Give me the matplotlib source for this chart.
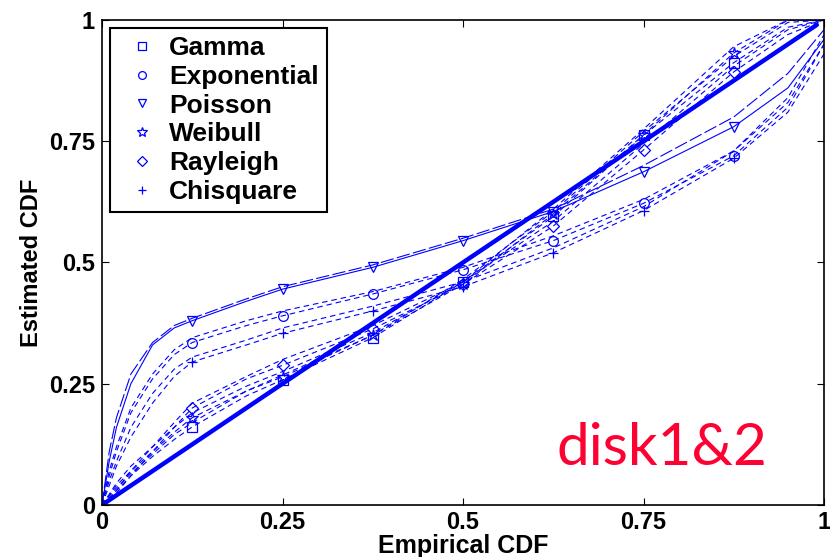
import matplotlib
matplotlib.use("Agg")
import matplotlib.pyplot as plt

xs = [0, 0.01, 0.02, 0.04, 0.07, 0.1, 0.125, 0.2, 0.25, 0.375, 0.5, 0.625, 0.75, 0.875, 0.95, 1.0]

# two curves (disk1, disk2) for each fitted distribution
gamma_1 = [0, 0.015, 0.03, 0.06, 0.10, 0.135, 0.161, 0.225, 0.258, 0.345, 0.46, 0.595, 0.762, 0.912, 0.985, 1.0]
gamma_2 = [0, 0.018, 0.035, 0.065, 0.105, 0.145, 0.17, 0.235, 0.268, 0.35, 0.465, 0.605, 0.77, 0.925, 0.995, 1.0]
expo_1 = [0, 0.06, 0.11, 0.19, 0.26, 0.31, 0.335, 0.37, 0.39, 0.435, 0.485, 0.545, 0.622, 0.72, 0.82, 0.95]
expo_2 = [0, 0.07, 0.12, 0.20, 0.27, 0.32, 0.345, 0.38, 0.40, 0.44, 0.49, 0.555, 0.63, 0.73, 0.84, 0.97]
poisson_1 = [0, 0.09, 0.16, 0.25, 0.33, 0.365, 0.38, 0.42, 0.445, 0.49, 0.545, 0.605, 0.687, 0.78, 0.86, 0.96]
poisson_2 = [0, 0.11, 0.18, 0.27, 0.335, 0.37, 0.385, 0.425, 0.45, 0.495, 0.55, 0.61, 0.70, 0.80, 0.89, 0.98]
weibull_1 = [0, 0.02, 0.04, 0.07, 0.11, 0.15, 0.18, 0.235, 0.264, 0.35, 0.455, 0.60, 0.763, 0.932, 1.0, 1.0]
weibull_2 = [0, 0.022, 0.045, 0.08, 0.12, 0.16, 0.19, 0.245, 0.275, 0.355, 0.46, 0.61, 0.775, 0.945, 1.0, 1.0]
rayleigh_1 = [0, 0.01, 0.025, 0.06, 0.11, 0.16, 0.20, 0.26, 0.288, 0.363, 0.455, 0.575, 0.732, 0.893, 0.97, 1.0]
rayleigh_2 = [0, 0.012, 0.03, 0.07, 0.12, 0.17, 0.21, 0.265, 0.30, 0.37, 0.46, 0.585, 0.745, 0.905, 0.98, 1.0]
chisq_1 = [0, 0.04, 0.08, 0.14, 0.21, 0.265, 0.295, 0.33, 0.354, 0.40, 0.45, 0.52, 0.607, 0.715, 0.81, 0.93]
chisq_2 = [0, 0.05, 0.09, 0.16, 0.23, 0.28, 0.305, 0.34, 0.365, 0.41, 0.46, 0.53, 0.615, 0.73, 0.83, 0.95]

# marker positions
mx = [0.125, 0.25, 0.375, 0.5, 0.625, 0.75, 0.875]
gamma_m = [0.161, 0.258, 0.345, 0.46, 0.595, 0.762, 0.912]
expo_m = [0.335, 0.39, 0.435, 0.485, 0.545, 0.622, 0.72]
poisson_m = [0.38, 0.445, 0.49, 0.545, 0.605, 0.687, 0.78]
weibull_m = [0.18, 0.264, 0.35, 0.455, 0.60, 0.763, 0.932]
rayleigh_m = [0.20, 0.288, 0.363, 0.455, 0.575, 0.732, 0.893]
chisq_m = [0.295, 0.354, 0.40, 0.45, 0.52, 0.607, 0.715]

labels = ["Gamma", "Exponential", "Poisson", "Weibull", "Rayleigh", "Chisquare"]
diag = [0, 0.99]

blue = "#0000ff"
plt.rcParams["font.family"] = ["Liberation Sans", "DejaVu Sans"]
plt.rcParams["font.weight"] = "bold"

fig = plt.figure(figsize=(8.3, 5.57), dpi=100)
ax = fig.add_axes([0.1229, 0.0934, 0.8699, 0.8707])

dash = (5, 3.5)
for c in [gamma_1, gamma_2, expo_1, expo_2, weibull_1, weibull_2,
          rayleigh_1, rayleigh_2, chisq_1, chisq_2]:
    ax.plot(xs, c, color=blue, lw=0.8, linestyle=(0, dash))
ax.plot(xs, poisson_1, color=blue, lw=0.8)
ax.plot(xs, poisson_2, color=blue, lw=0.8, linestyle=(0, (12, 3)))

ax.plot(diag, diag, color=blue, lw=3.2, solid_capstyle="round")

handles = []
for m, ys, lab in zip(["s", "o", "v", "*", "D", "+"],
                      [gamma_m, expo_m, poisson_m, weibull_m, rayleigh_m, chisq_m],
                      labels):
    ms = 9 if m == "*" else 7
    if m == "D":
        ms = 6
    h, = ax.plot(mx, ys, linestyle="none", marker=m, markersize=ms,
                 markerfacecolor="none", markeredgecolor=blue,
                 markeredgewidth=0.9, label=lab)
    handles.append(h)

leg = ax.legend(handles=handles, loc="upper left", bbox_to_anchor=(0.011, 0.983),
                borderaxespad=0, markerscale=0.8, handlelength=1.8,
                handletextpad=0.15, labelspacing=0.18, borderpad=0.3,
                fancybox=False, framealpha=1, prop={"weight": "bold", "size": 19})
leg.get_frame().set_edgecolor("black")
leg.get_frame().set_linewidth(1.5)

ax.set_xlim(0, 1)
ax.set_ylim(0, 1)
ticks = [0, 0.25, 0.5, 0.75, 1]
ticklabels = ["0", "0.25", "0.5", "0.75", "1"]
ax.set_xticks(ticks)
ax.set_xticklabels(ticklabels)
ax.set_yticks(ticks)
ax.set_yticklabels(ticklabels)
ax.tick_params(direction="in", top=True, right=True, length=5, width=0.8,
               labelsize=17, pad=5)
ax.tick_params(axis="x", pad=4)
for s in ax.spines.values():
    s.set_linewidth(1.2)

ax.set_xlabel("Empirical CDF", fontsize=18, fontweight="bold", labelpad=0)
ax.set_ylabel("Estimated CDF", fontsize=17, fontweight="bold", labelpad=4)

ax.text(0.63, 0.083, "disk1&2", color="#ff0033", fontsize=42,
        family=["Lato", "DejaVu Sans"], fontweight="normal")

fig.savefig("out.png", dpi=100)
